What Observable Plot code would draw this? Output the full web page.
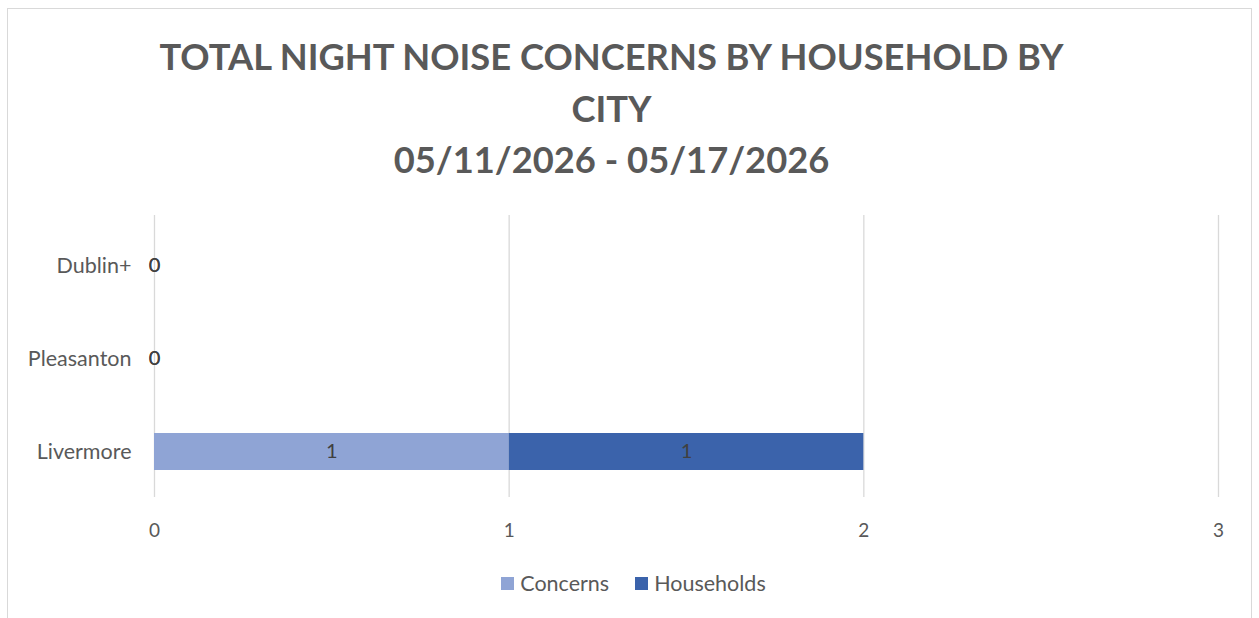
<!DOCTYPE html>
<html>
<head>
<meta charset="utf-8">
<script src="https://cdn.jsdelivr.net/npm/d3@7"></script>
<script src="https://cdn.jsdelivr.net/npm/@observablehq/plot@0.6"></script>
<style>
  html, body { margin: 0; padding: 0; background: #fff; width: 1259px; height: 618px; overflow: hidden; }
  #frame { position: absolute; left: 7px; top: 8px; width: 1245px; height: 640px; border: 1px solid #d9d9d9; box-sizing: border-box; }
  #title { position: absolute; left: -18px; top: 31px; width: 1259px; text-align: center; font-family: Lato, sans-serif; font-weight: 700; font-size: 36.3px; line-height: 51.5px; color: #595959; }
  #chart { position: absolute; left: 0; top: 200px; }
  #legend { position: absolute; left: 0; top: 570px; width: 1259px; display: flex; justify-content: center; gap: 26px; font-family: Lato, sans-serif; font-size: 21.5px; color: #595959; padding-left: 8px; box-sizing: border-box; }
  #legend span.item { display: flex; align-items: center; gap: 6px; }
  #legend span.sw { display: inline-block; width: 13px; height: 13px; }
</style>
</head>
<body>
<div id="frame"></div>
<div id="title">TOTAL NIGHT NOISE CONCERNS BY HOUSEHOLD BY<br>CITY<br>05/11/2026 - 05/17/2026</div>
<div id="chart"></div>
<div id="legend"></div>
<script>
const cities = ["Livermore", "Pleasanton", "Dublin+"];
const concerns = [1, 0, 0];
const households = [1, 0, 0];
const seriesNames = ["Concerns", "Households"];
const seriesColors = ["#8FA4D5", "#3B63AB"];
const xTicks = [0, 1, 2, 3];

const rows = [];
cities.forEach((c, i) => {
  rows.push({city: c, series: "Concerns", value: concerns[i]});
  rows.push({city: c, series: "Households", value: households[i]});
});

const plot = Plot.plot({
  width: 1259,
  height: 350,
  marginLeft: 154,
  marginRight: 41,
  marginTop: 15,
  marginBottom: 53,
  style: {fontFamily: "Lato, sans-serif", fontSize: "19px", color: "#595959", background: "transparent"},
  x: {domain: [0, 3], ticks: xTicks, tickSize: 0, tickPadding: 26, label: null, tickFormat: d => d},
  y: {domain: ["Dublin+", "Pleasanton", "Livermore"], paddingInner: 0.6, paddingOuter: 0.316, align: 0.55, tickSize: 0, tickPadding: 23, label: null},
  color: {domain: seriesNames, range: seriesColors},
  marks: [
    Plot.ruleX(xTicks, {stroke: "#d9d9d9", strokeWidth: 1.3}),
    Plot.axisY({tickSize: 0, tickPadding: 23, fontSize: 21.5, label: null}),
    Plot.barX(rows, Plot.stackX({x: "value", y: "city", fill: "series", order: seriesNames})),
    Plot.text(rows, Plot.stackX({x: "value", y: "city", z: "series", order: seriesNames, text: d => String(d.value), fill: "#404040", fontSize: 20}))
  ]
});
document.getElementById("chart").appendChild(plot);

const legend = document.getElementById("legend");
seriesNames.forEach((s, i) => {
  const item = document.createElement("span");
  item.className = "item";
  const sw = document.createElement("span");
  sw.className = "sw";
  sw.style.background = seriesColors[i];
  item.appendChild(sw);
  item.appendChild(document.createTextNode(s));
  legend.appendChild(item);
});
</script>
</body>
</html>
